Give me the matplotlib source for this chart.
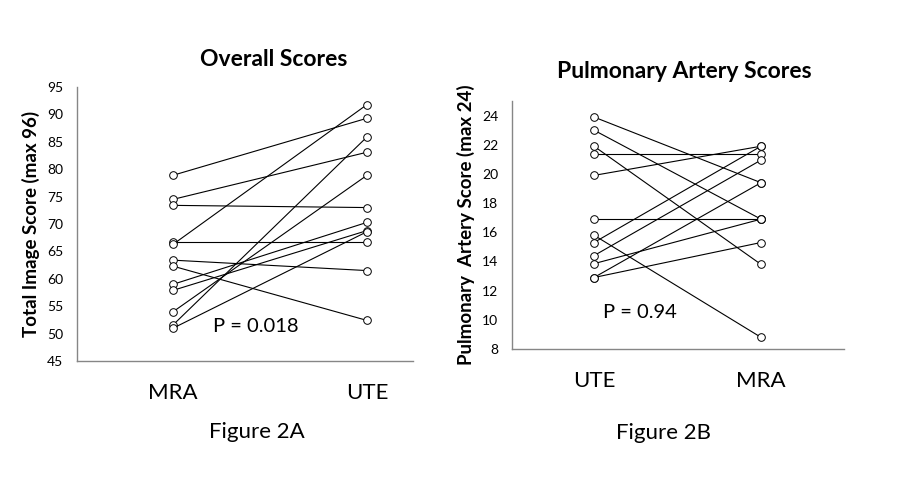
import numpy as np
import matplotlib
matplotlib.use('Agg')
import matplotlib.pyplot as plt

plt.rcParams['font.family'] = ['Lato', 'DejaVu Sans']

# Figure 2A: overall scores, each reader/patient pair (MRA -> UTE)
cats_a = ['MRA', 'UTE']
mra_a = [78.9, 74.5, 73.4, 66.8, 66.3, 63.4, 62.3, 59.0, 57.9, 54.0, 51.6, 51.0]
ute_a = [89.3, 83.1, 73.0, 66.8, 91.8, 61.5, 52.4, 70.3, 68.8, 78.9, 85.9, 68.6]
yticks_a = [45, 50, 55, 60, 65, 70, 75, 80, 85, 90, 95]

# Figure 2B: pulmonary artery scores (UTE -> MRA)
cats_b = ['UTE', 'MRA']
ute_b = [23.9, 23.0, 21.9, 21.4, 19.9, 16.9, 15.8, 15.3, 14.4, 13.85, 12.9, 12.9]
mra_b = [19.4, 16.9, 13.8, 21.4, 21.9, 16.9, 8.8, 21.9, 20.95, 16.9, 19.4, 15.3]
yticks_b = [8, 10, 12, 14, 16, 18, 20, 22, 24]

W, H = 901, 488
fig = plt.figure(figsize=(W / 100, H / 100), dpi=100)


def px_axes(x0, y0, x1, y1):
    return fig.add_axes([x0 / W, 1 - y1 / H, (x1 - x0) / W, (y1 - y0) / H])


def style(ax):
    for s in ['top', 'right']:
        ax.spines[s].set_visible(False)
    for s in ['left', 'bottom']:
        ax.spines[s].set_color('#868686')
        ax.spines[s].set_linewidth(1.0)
    ax.tick_params(axis='y', length=0, pad=10, labelsize=10)
    ax.tick_params(axis='x', length=0, pad=16, labelsize=16)


def paired(ax, first, second):
    for a, b in zip(first, second):
        ax.plot([1, 2], [a, b], color='black', linewidth=0.8,
                marker='o', markersize=5.5, markerfacecolor='white',
                markeredgecolor='black', markeredgewidth=0.7)


ax1 = px_axes(77, 87, 413, 361)
paired(ax1, mra_a, ute_a)
ax1.set_xlim(0.504, 2.237)
ax1.set_ylim(45, 95)
ax1.set_yticks(yticks_a)
ax1.set_xticks([1, 2], cats_a)
ax1.set_ylabel('Total Image Score (max 96)', fontsize=13.5, fontweight='bold', labelpad=5)
style(ax1)

ax2 = px_axes(512, 101, 844, 349)
paired(ax2, ute_b, mra_b)
ax2.set_xlim(0.509, 2.497)
ax2.set_ylim(8, 25)
ax2.set_yticks(yticks_b)
ax2.set_xticks([1, 2], cats_b)
ax2.set_ylabel('Pulmonary  Artery Score (max 24)', fontsize=13.5, fontweight='bold', labelpad=5)
style(ax2)

fig.text(274 / W, 1 - 60 / H, 'Overall Scores', ha='center', va='center',
         fontsize=16.5, fontweight='bold')
fig.text(684 / W, 1 - 71 / H, 'Pulmonary Artery Scores', ha='center', va='center',
         fontsize=16.5, fontweight='bold')
fig.text(256 / W, 1 - 326 / H, 'P = 0.018', ha='center', va='center', fontsize=14.5)
fig.text(640 / W, 1 - 313 / H, 'P = 0.94', ha='center', va='center', fontsize=14.5)
fig.text(257 / W, 1 - 432 / H, 'Figure 2A', ha='center', va='center', fontsize=16)
fig.text(664 / W, 1 - 433 / H, 'Figure 2B', ha='center', va='center', fontsize=16)

fig.savefig('out.png', dpi=100, facecolor='white')
